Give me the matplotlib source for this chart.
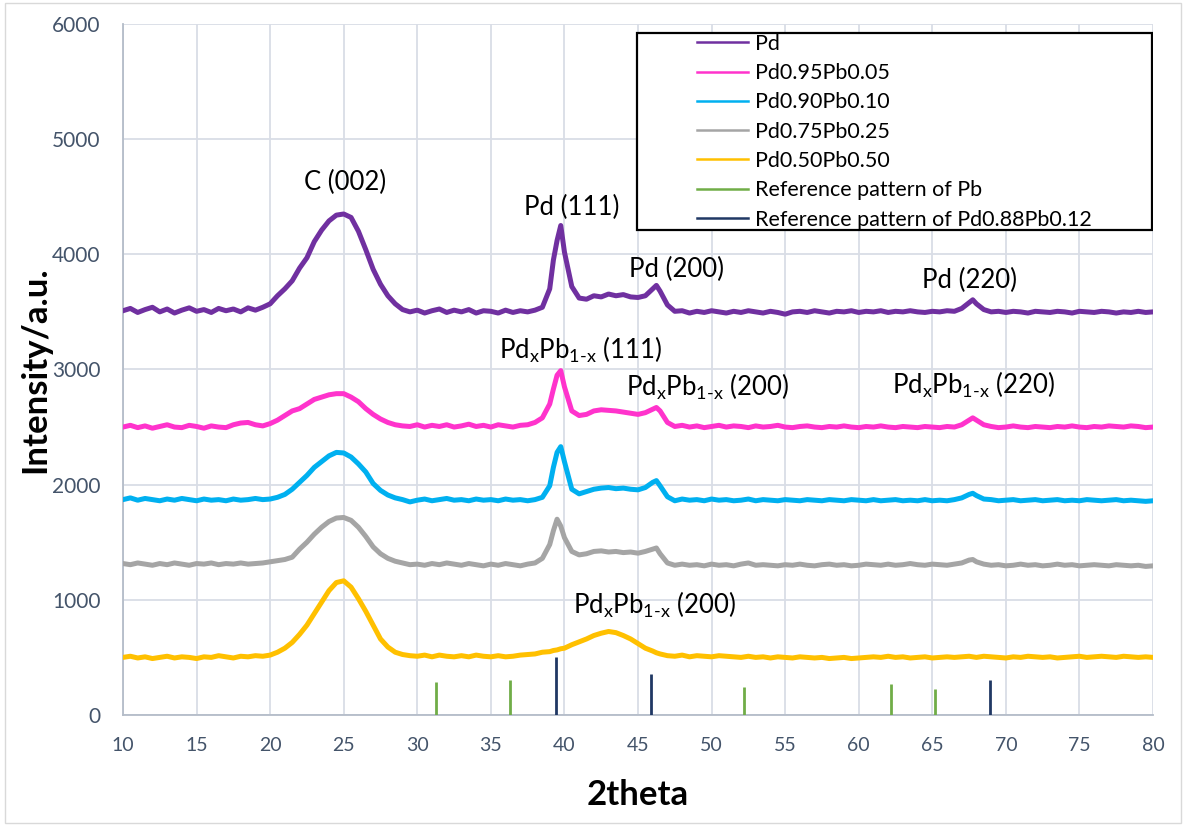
import numpy as np
import matplotlib
matplotlib.use("Agg")
import matplotlib.pyplot as plt
from matplotlib.patches import Rectangle

plt.rcParams['font.family'] = ['Lato', 'DejaVu Sans']
plt.rcParams['mathtext.fontset'] = 'custom'
plt.rcParams['mathtext.rm'] = 'Lato'
plt.rcParams['mathtext.it'] = 'Lato'

# 2theta sampling (finer points where the sharp peaks sit)
two_theta = (list(np.arange(10, 39.01, 0.5)) + [39.25, 39.5, 39.75]
             + list(np.arange(40, 46.01, 0.5)) + [46.25]
             + list(np.arange(46.5, 67.51, 0.5)) + [67.75]
             + list(np.arange(68, 80.01, 0.5)))

pd_100 = [3510, 3530, 3495, 3520, 3540, 3500, 3525, 3490, 3515, 3535, 3505, 3520, 3495, 3530, 3510, 3525, 3500, 3535, 3515, 3540,
          3570, 3640, 3700, 3770, 3880, 3970, 4110, 4210, 4290, 4340, 4350, 4320, 4200, 4040, 3870, 3740, 3640, 3570, 3520, 3500,
          3515, 3490, 3510, 3525, 3495, 3515, 3500, 3520, 3490, 3510, 3505, 3490, 3515, 3495, 3510, 3500, 3515, 3540, 3700,
          3950, 4120, 4250,
          4020, 3720, 3620, 3610, 3640, 3630, 3655, 3640, 3650, 3630, 3625, 3640, 3700,
          3730,
          3680, 3560, 3505, 3510, 3490, 3505, 3495, 3510, 3500, 3490, 3505, 3495, 3510, 3500, 3490, 3505, 3495, 3480, 3500, 3505,
          3495, 3510, 3500, 3490, 3505, 3500, 3510, 3495, 3505, 3500, 3510, 3495, 3505, 3500, 3510, 3500, 3495, 3505, 3500, 3510,
          3505, 3530, 3580,
          3605,
          3570, 3520, 3500, 3505, 3495, 3505, 3500, 3490, 3505, 3500, 3495, 3505, 3500, 3490, 3505, 3500, 3495, 3505, 3500, 3490,
          3500, 3495, 3505, 3495, 3500]

pd95 = [2500, 2515, 2495, 2510, 2490, 2505, 2520, 2500, 2495, 2515, 2505, 2490, 2510, 2500, 2495, 2520, 2535, 2540, 2520, 2510,
        2530, 2560, 2600, 2640, 2660, 2700, 2740, 2760, 2780, 2790, 2790, 2760, 2720, 2660, 2610, 2570, 2540, 2520, 2510, 2505,
        2520, 2500, 2515, 2505, 2520, 2500, 2510, 2525, 2505, 2515, 2500, 2520, 2510, 2500, 2515, 2520, 2540, 2580, 2700,
        2830, 2950, 2990,
        2850, 2640, 2600, 2610, 2640, 2650, 2645, 2640, 2630, 2620, 2610, 2625, 2655,
        2670,
        2640, 2540, 2505, 2515, 2500, 2510, 2495, 2505, 2515, 2500, 2510, 2505, 2495, 2510, 2500, 2505, 2515, 2500, 2495, 2505,
        2510, 2500, 2495, 2505, 2500, 2510, 2500, 2495, 2505, 2500, 2510, 2500, 2495, 2505, 2500, 2495, 2505, 2500, 2495, 2505,
        2500, 2520, 2560,
        2580,
        2560, 2520, 2505, 2495, 2500, 2510, 2500, 2495, 2505, 2500, 2495, 2505, 2500, 2510, 2500, 2495, 2505, 2500, 2510, 2505,
        2500, 2510, 2505, 2495, 2500]

pd90 = [1870, 1885, 1865, 1880, 1870, 1860, 1875, 1865, 1880, 1870, 1860, 1875, 1865, 1870, 1860, 1875, 1865, 1870, 1880, 1870,
        1875, 1890, 1915, 1960, 2020, 2080, 2150, 2200, 2250, 2280, 2275, 2240, 2180, 2110, 2010, 1950, 1910, 1885, 1870, 1850,
        1865, 1875, 1860, 1870, 1880, 1865, 1870, 1860, 1875, 1865, 1870, 1860, 1875, 1865, 1870, 1860, 1870, 1890, 1990,
        2150, 2280, 2330,
        2200, 1960, 1920, 1940, 1960, 1970, 1975, 1965, 1970, 1960, 1955, 1975, 2020,
        2035,
        1990, 1895, 1860, 1875, 1865, 1870, 1860, 1875, 1865, 1870, 1860, 1865, 1875, 1860, 1870, 1865, 1860, 1870, 1865, 1860,
        1870, 1865, 1860, 1870, 1865, 1860, 1870, 1865, 1860, 1870, 1860, 1865, 1870, 1860, 1865, 1860, 1870, 1860, 1865, 1860,
        1870, 1885, 1915,
        1925,
        1905, 1875, 1870, 1860, 1865, 1870, 1860, 1865, 1870, 1860, 1865, 1870, 1860, 1865, 1860, 1870, 1865, 1860, 1865, 1870,
        1860, 1865, 1860, 1855, 1860]

pd75 = [1315, 1305, 1320, 1310, 1300, 1315, 1305, 1320, 1310, 1300, 1315, 1310, 1320, 1305, 1315, 1310, 1320, 1310, 1315, 1320,
        1330, 1340, 1350, 1370, 1440, 1500, 1570, 1630, 1680, 1710, 1715, 1690, 1630, 1550, 1460, 1400, 1360, 1335, 1320, 1305,
        1310, 1300, 1315, 1305, 1320, 1310, 1300, 1315, 1305, 1295, 1310, 1300, 1315, 1305, 1295, 1310, 1320, 1360, 1480,
        1600, 1700, 1640,
        1540, 1420, 1390, 1400, 1420, 1425, 1415, 1420, 1410, 1415, 1405, 1420, 1440,
        1450,
        1400, 1320, 1300, 1310, 1300, 1305, 1295, 1310, 1300, 1305, 1295, 1310, 1320, 1300, 1305, 1300, 1295, 1305, 1300, 1310,
        1300, 1295, 1305, 1310, 1300, 1305, 1295, 1300, 1310, 1305, 1300, 1310, 1300, 1305, 1315, 1305, 1300, 1310, 1305, 1300,
        1310, 1320, 1345,
        1350,
        1330, 1310, 1300, 1305, 1295, 1300, 1310, 1300, 1305, 1295, 1300, 1310, 1300, 1305, 1295, 1300, 1305, 1300, 1295, 1305,
        1300, 1295, 1300, 1290, 1295]

pd50 = [500, 510, 495, 505, 490, 500, 510, 495, 505, 500, 490, 505, 500, 515, 505, 495, 510, 505, 515, 510,
        520, 545, 580, 630, 700, 780, 880, 980, 1080, 1150, 1165, 1110, 1010, 900, 780, 660, 590, 545, 525, 515,
        510, 520, 505, 520, 510, 505, 515, 505, 520, 510, 505, 515, 505, 510, 520, 525, 530, 545, 550,
        560, 565, 575,
        580, 610, 635, 660, 690, 710, 725, 715, 690, 660, 620, 580, 555,
        540,
        530, 515, 510, 520, 505, 515, 510, 505, 515, 510, 505, 500, 510, 500, 505, 495, 505, 500, 495, 505,
        500, 495, 500, 490, 495, 500, 490, 495, 500, 505, 500, 510, 500, 505, 495, 500, 505, 495, 500, 505,
        500, 505, 510,
        505,
        500, 510, 505, 500, 495, 505, 500, 510, 505, 500, 505, 495, 500, 505, 510, 500, 505, 510, 505, 500,
        510, 505, 500, 505, 500]

names = ["Pd", "Pd0.95Pb0.05", "Pd0.90Pb0.10", "Pd0.75Pb0.25", "Pd0.50Pb0.50"]
colors = ["#7030a0", "#ff33cc", "#00b0f0", "#a5a5a5", "#ffc000"]

# reference patterns (stick positions and heights)
pb_pos = [31.3, 36.3, 52.2, 62.2, 65.2]
pb_h = [290, 300, 245, 270, 225]
pdpb_pos = [39.4, 45.9, 68.9]
pdpb_h = [500, 355, 300]

fig = plt.figure(figsize=(11.86, 8.26), dpi=100)
ax = fig.add_axes([0.1037, 0.1344, 0.8685, 0.8366])

for ys, nm, c in zip([pd_100, pd95, pd90, pd75, pd50], names, colors):
    assert len(ys) == len(two_theta)
    ax.plot(two_theta, ys, color=c, lw=3.6, label=nm, zorder=3)

ax.vlines(pb_pos, 0, pb_h, color="#70ad47", lw=2, zorder=3)
ax.vlines(pdpb_pos, 0, pdpb_h, color="#203864", lw=2, zorder=3)
ax.plot([], [], color="#70ad47", lw=2, label="Reference pattern of Pb")
ax.plot([], [], color="#203864", lw=2, label="Reference pattern of Pd0.88Pb0.12")

ax.set_xlim(10, 80)
ax.set_ylim(0, 6000)
ax.set_xticks(range(10, 81, 5))
ax.set_yticks(range(0, 6001, 1000))
ax.grid(True, color="#d9dde6", lw=1.3, zorder=0)
ax.set_axisbelow(True)
for s in ["top", "right"]:
    ax.spines[s].set_visible(False)
for s in ["left", "bottom"]:
    ax.spines[s].set_color("#b4bcc8")
    ax.spines[s].set_linewidth(1.3)
ax.tick_params(axis="both", length=0, colors="#44546a")
ax.tick_params(axis="y", labelsize=15, pad=16)
ax.tick_params(axis="x", labelsize=14, pad=16)

ax.set_xlabel("2theta", fontsize=25, fontweight="bold", labelpad=18)
ax.set_ylabel("Intensity/a.u.", fontsize=25, fontweight="bold", labelpad=1)

sub = r"Pd$_{\mathrm{x}}$Pb$_{\text{1-x}}$"
fs = 18.5
ax.text(25.1, 4627, "C (002)", fontsize=fs, ha="center", va="center")
ax.text(40.5, 4410, "Pd (111)", fontsize=fs, ha="center", va="center")
ax.text(47.6, 3872, "Pd (200)", fontsize=fs, ha="center", va="center")
ax.text(67.5, 3776, "Pd (220)", fontsize=fs, ha="center", va="center")
ax.text(41.1, 3168, sub + " (111)", fontsize=fs, ha="center", va="center")
ax.text(49.7, 2847, sub + " (200)", fontsize=fs, ha="center", va="center")
ax.text(67.8, 2865, sub + " (220)", fontsize=fs, ha="center", va="center")
ax.text(46.1, 955, sub + " (200)", fontsize=fs, ha="center", va="center")

leg = ax.legend(loc="upper left", bbox_to_anchor=(0.557, 0.9855), frameon=False,
                fontsize=15.5, handlelength=2.4, handletextpad=0.32,
                labelspacing=0.43, borderpad=0, borderaxespad=0)
for h in leg.get_lines():
    h.set_linewidth(1.8)
leg.set_zorder(6)
ax.add_patch(Rectangle((0.499, 0.702), 0.5, 0.285, transform=ax.transAxes,
                       facecolor="white", edgecolor="black", lw=1.6, zorder=5))

fig.patches.append(Rectangle((0.004, 0.004), 0.992, 0.992, transform=fig.transFigure,
                             fill=False, edgecolor="#d9d9d9", lw=1))

fig.savefig("out.png", dpi=100)
